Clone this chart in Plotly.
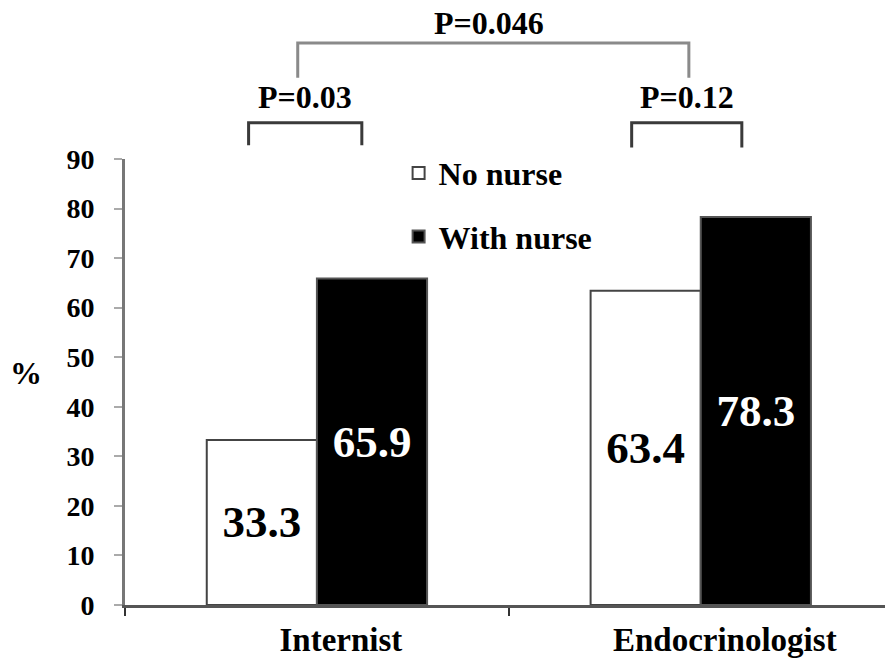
import plotly.graph_objects as go

categories = ["Internist", "Endocrinologist"]
no_nurse = [33.3, 63.4]
with_nurse = [65.9, 78.3]
y_ticks = [0, 10, 20, 30, 40, 50, 60, 70, 80, 90]
p_labels = ["P=0.03", "P=0.12", "P=0.046"]

FONT = "Liberation Serif"
X_RANGE = [-0.5, 1.48]


def xp(v):
    # data x (category index) -> paper x
    return (v - X_RANGE[0]) / (X_RANGE[1] - X_RANGE[0])


fig = go.Figure()
fig.add_trace(go.Bar(
    x=categories, y=no_nurse, name="No nurse", legendgroup="a",
    marker=dict(color="white", line=dict(color="#444444", width=2)),
    text=[f"{v:.1f}" for v in no_nurse], textposition="inside",
    insidetextanchor="middle", constraintext="none",
    textfont=dict(family=FONT, size=45, color="black", weight="bold"),
))
fig.add_trace(go.Bar(
    x=categories, y=with_nurse, name="With nurse", legendgroup="b",
    marker=dict(color="black", line=dict(color="#555555", width=2)),
    text=[f"{v:.1f}" for v in with_nurse], textposition="inside",
    insidetextanchor="middle", constraintext="none",
    textfont=dict(family=FONT, size=45, color="white", weight="bold"),
))

# significance brackets (paper y, data-derived paper x)
line_dark = dict(color="#3a3a3a", width=3)
line_top = dict(color="#8a8a8a", width=3)
brackets = [
    # (x0, x1, y_bar, y_end, line)
    (-0.178, 0.117, 1.081, 1.031, line_dark),
    (0.820, 1.107, 1.081, 1.026, line_dark),
    (-0.050, 0.969, 1.260, 1.182, line_top),
]
for x0, x1, yb, ye, ln in brackets:
    fig.add_shape(type="path", xref="paper", yref="paper",
                  path=f"M{xp(x0)},{ye} L{xp(x0)},{yb} L{xp(x1)},{yb} L{xp(x1)},{ye}",
                  line=ln)

p_pos = [(-0.030, 1.139), (0.964, 1.139), (0.448, 1.305)]
for txt, (px, py) in zip(p_labels, p_pos):
    fig.add_annotation(text=txt, x=xp(px), y=py, xref="paper", yref="paper",
                       showarrow=False, xanchor="center", yanchor="middle",
                       font=dict(family=FONT, size=32, color="black", weight="bold"))

fig.add_annotation(text="%", x=-0.130, y=0.52, xref="paper", yref="paper",
                   showarrow=False, xanchor="center", yanchor="middle",
                   font=dict(family=FONT, size=32, color="black", weight="bold"))

fig.update_layout(
    width=885, height=658,
    margin=dict(l=125, r=0, t=159, b=53, autoexpand=False),
    paper_bgcolor="white", plot_bgcolor="white",
    barmode="group", bargap=0.426, bargroupgap=0,
    showlegend=True,
    legend=dict(x=0.360, y=1.030, xanchor="left", yanchor="top",
                font=dict(family=FONT, size=32, color="black", weight="bold"),
                bgcolor="rgba(0,0,0,0)", tracegroupgap=19, traceorder="grouped"),
    xaxis=dict(range=X_RANGE, showline=True, linecolor="#555555", linewidth=3,
               automargin=False,
               tickson="boundaries", ticks="outside", ticklen=8, tickwidth=2,
               tickcolor="#333333", ticklabelshift=24, ticklabelstandoff=3,
               tickfont=dict(family=FONT, size=33, color="black", weight="bold"),
               showgrid=False, zeroline=False, fixedrange=True),
    yaxis=dict(range=[0, 90], tickvals=y_ticks, showline=True, linecolor="#777777",
               automargin=False,
               linewidth=3, ticks="outside", ticklen=8, tickwidth=2, tickcolor="#aaaaaa",
               ticklabelstandoff=14,
               tickfont=dict(family=FONT, size=28, color="black", weight="bold"),
               showgrid=False, zeroline=False, fixedrange=True),
)

# remove the browser's default 8px page margin so the 885x658 figure fills the window
fig.write_html("out.html",
               config={"displayModeBar": False},
               post_script="document.body.style.margin='0';document.body.style.overflow='hidden';")
